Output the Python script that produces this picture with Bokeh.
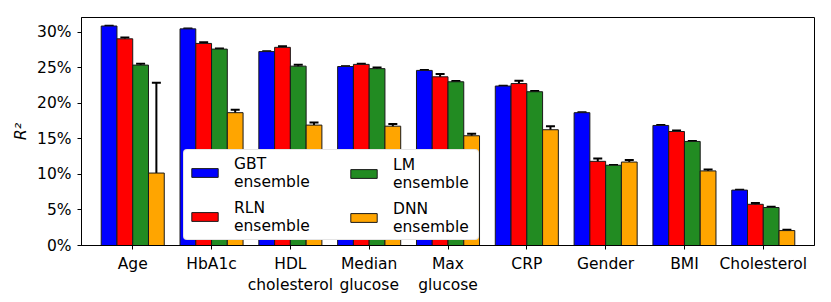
from bokeh.plotting import figure
from bokeh.models import (Range1d, FixedTicker, Whisker, TeeHead, ColumnDataSource,
                          Legend, LegendItem, PrintfTickFormatter)
from bokeh.embed import file_html
from bokeh.resources import INLINE

categories = ["Age", "HbA1c", "HDL\ncholesterol", "Median\nglucose", "Max\nglucose",
              "CRP", "Gender", "BMI", "Cholesterol"]
series_names = ["GBT\nensemble", "RLN\nensemble", "LM\nensemble", "DNN\nensemble"]
gbt = [30.9, 30.5, 27.3, 25.2, 24.65, 22.45, 18.7, 16.9, 7.8]
rln = [29.1, 28.45, 27.9, 25.5, 23.75, 22.8, 11.85, 16.05, 5.8]
lm = [25.4, 27.65, 25.25, 24.9, 23.05, 21.65, 11.3, 14.65, 5.35]
dnn = [10.2, 18.7, 16.95, 16.8, 15.45, 16.3, 11.75, 10.5, 2.1]
gbt_err = [0.05, 0.05, 0.05, 0.05, 0.05, 0.05, 0.05, 0.05, 0.05]
rln_err = [0.2, 0.15, 0.15, 0.1, 0.4, 0.4, 0.4, 0.15, 0.2]
lm_err = [0.2, 0.1, 0.2, 0.15, 0.1, 0.1, 0.05, 0.05, 0.1]
dnn_err = [12.7, 0.4, 0.35, 0.3, 0.3, 0.5, 0.3, 0.2, 0.1]
y_ticks = [0, 5, 10, 15, 20, 25, 30]

colors = ["#0000ff", "#ff0000", "#228b22", "#ffa500"]
offsets = [-0.3, -0.1, 0.1, 0.3]
values = [gbt, rln, lm, dnn]
errors = [gbt_err, rln_err, lm_err, dnn_err]

FONT = "DejaVu Sans"
FS = "15.5px"

p = figure(width=831, height=302, output_backend="svg", toolbar_location=None,
           x_range=Range1d(-0.65, 8.65), y_range=Range1d(0, 32.1),
           min_border_left=81, min_border_right=17, min_border_top=17, min_border_bottom=57)
p.xgrid.visible = False
p.ygrid.visible = False
p.outline_line_color = "black"
p.outline_line_width = 1
p.background_fill_color = "white"
p.border_fill_color = "white"

idx = list(range(len(categories)))
renderers = []
for vals, errs, col, off in zip(values, errors, colors, offsets):
    xs = [i + off for i in idx]
    src = ColumnDataSource(dict(x=xs, top=vals,
                                lo=[v - e for v, e in zip(vals, errs)],
                                hi=[v + e for v, e in zip(vals, errs)]))
    r = p.vbar(x="x", top="top", width=0.2, source=src, fill_color=col,
               line_color="#1a1a1a", line_width=1)
    renderers.append(r)
    w = Whisker(base="x", lower="lo", upper="hi", source=src,
                line_color="black", line_width=2,
                upper_head=TeeHead(size=9, line_width=2, line_color="black"),
                lower_head=TeeHead(size=9, line_width=2, line_color="black"))
    p.add_layout(w)

# axes
p.xaxis.ticker = FixedTicker(ticks=idx)
p.xaxis.major_label_overrides = {i: c for i, c in zip(idx, categories)}
p.yaxis.ticker = FixedTicker(ticks=y_ticks)
p.yaxis.formatter = PrintfTickFormatter(format="%d%%")
for ax in (p.xaxis, p.yaxis):
    ax.major_label_text_font = FONT
    ax.major_label_text_font_size = FS
    ax.major_label_text_color = "black"
    ax.major_tick_out = 4
    ax.major_tick_in = 0
    ax.minor_tick_out = 0
    ax.minor_tick_in = 0
    ax.axis_line_color = "black"
    ax.major_tick_line_color = "black"
p.xaxis.major_label_standoff = 5
p.yaxis.major_label_standoff = 6
p.yaxis.axis_label = "R²"
p.yaxis.axis_label_text_font = FONT
p.yaxis.axis_label_text_font_size = "16px"
p.yaxis.axis_label_text_font_style = "italic"
p.yaxis.axis_label_text_color = "black"
p.yaxis.axis_label_standoff = 4

common = dict(label_text_font=FONT, label_text_font_size=FS, label_text_color="black",
              glyph_width=33, glyph_height=11,
              label_standoff=13, label_height=37, spacing=7, padding=4, margin=0,
              orientation="vertical")
legA = Legend(items=[LegendItem(label=series_names[0], renderers=[renderers[0]]),
                     LegendItem(label=series_names[1], renderers=[renderers[1]])],
              location=(102, 5), label_width=240,
              background_fill_color="white", background_fill_alpha=1.0,
              border_line_color="#cccccc", border_line_width=1.5, border_radius=4,
              **common)
legB = Legend(items=[LegendItem(label=series_names[2], renderers=[renderers[2]]),
                     LegendItem(label=series_names[3], renderers=[renderers[3]])],
              location=(262, 5), label_width=80,
              background_fill_alpha=0, border_line_alpha=0, **common)
p.add_layout(legA)
p.add_layout(legB)

open("out.html", "w").write(file_html(p, INLINE))
